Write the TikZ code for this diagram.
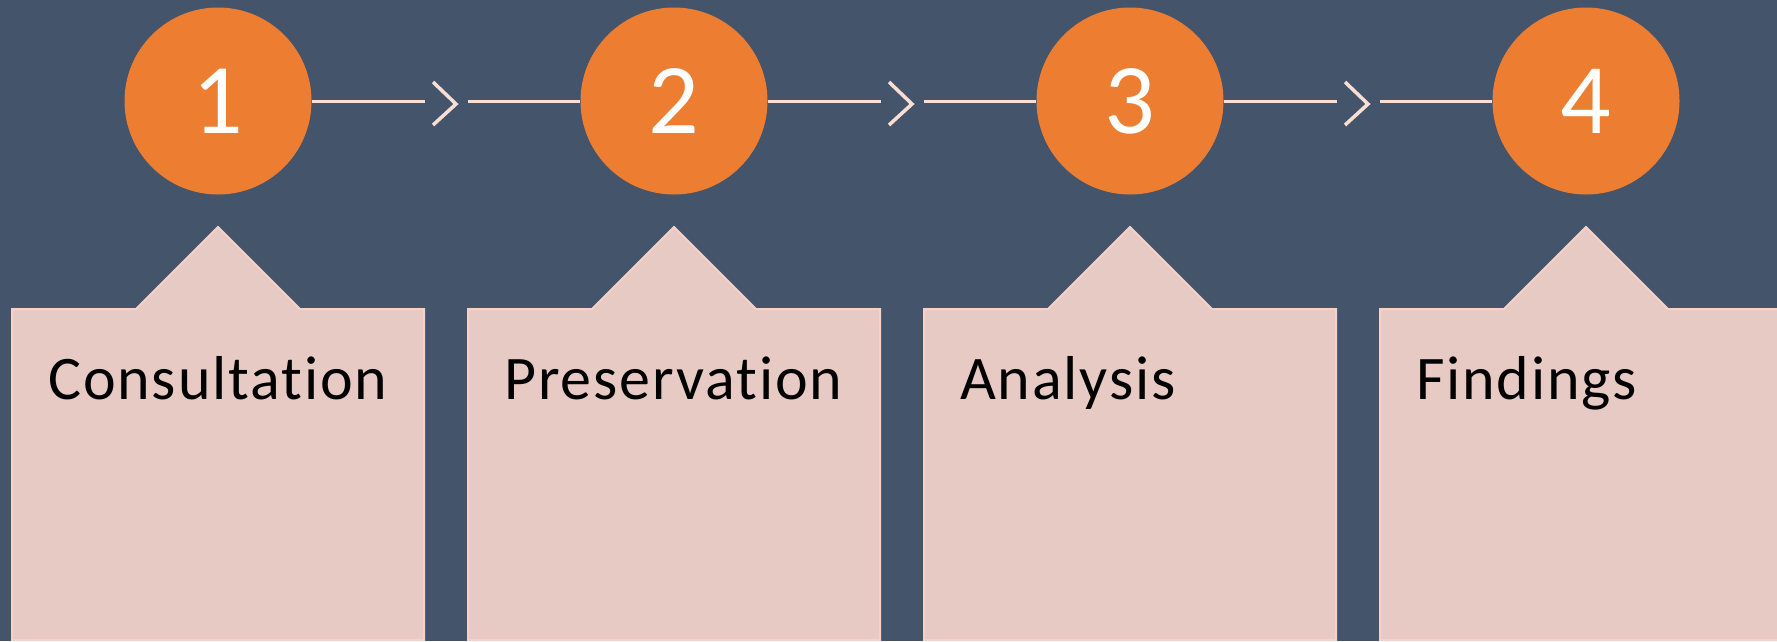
\documentclass[tikz,border=0pt]{standalone}
\usepackage{fontspec}
\setmainfont{Carlito}[Ligatures=NoCommon]
\newfontfamily\cardfont{Carlito}[Ligatures=NoCommon,LetterSpace=3]
\usetikzlibrary{calc}
\definecolor{slateblue}{HTML}{44546A}
\definecolor{stageorange}{HTML}{ED7D31}
\definecolor{cardpink}{RGB}{231,202,195}
\definecolor{cardedge}{RGB}{244,210,201}
\definecolor{linkpink}{RGB}{250,222,212}

\tikzset{
  stepdot/.style={circle,fill=stageorange,minimum size=187pt,inner sep=0pt,
    text=white,font=\fontsize{100}{100}\selectfont},
  card/.style={fill=cardpink,draw=cardedge,line width=2pt},
  cardtext/.style={anchor=base west,inner sep=0pt,font=\cardfont\fontsize{62}{70}\selectfont},
  link/.style={draw=linkpink,line width=3pt},
}

\begin{document}
\begin{tikzpicture}[x=1pt,y=-1pt]
  \fill[slateblue] (0,0) rectangle (1777,641);
  \useasboundingbox (0,0) rectangle (1777,641);
  % four stages: a numbered dot above a card with a peak
  \foreach \i/\name in {1/Consultation,2/Preservation,3/Analysis,4/Findings} {
    \pgfmathsetmacro\cx{218+456*(\i-1)}
    \node[stepdot] (dot\i) at (\cx,101) {\i};
    \draw[card] (\cx-206,640) -- (\cx-206,309) -- (\cx-82,309) -- (\cx,227)
      -- (\cx+82,309) -- (\cx+206,309) -- (\cx+206,640) -- cycle;
    \node[cardtext] (label\i) at (\cx-170,399) {\name};
  }
  % links between the dots, with a chevron halfway
  \foreach \i [evaluate=\i as \j using int(\i+1)] in {1,2,3} {
    \coordinate (mid\i) at ($(dot\i)!0.5!(dot\j)$);
    \draw[link] (dot\i) -- ($(mid\i)+(-21,0)$);
    \draw[link] ($(mid\i)+(22,0)$) -- (dot\j);
    \draw[link,line width=3.5pt] ($(mid\i)+(-13,-19)$) -- ($(mid\i)+(10,3)$)
      -- ($(mid\i)+(-13,24)$);
  }
\end{tikzpicture}
\end{document}
